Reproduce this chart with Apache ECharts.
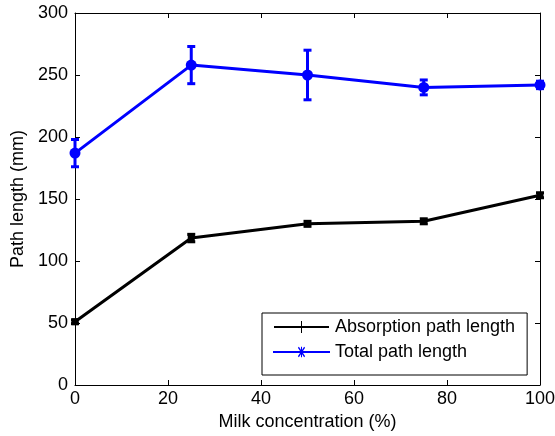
<!DOCTYPE html>
<html>
<head>
<meta charset="utf-8">
<script src="https://cdn.jsdelivr.net/npm/echarts@6/dist/echarts.min.js"></script>
<style>
  body { margin: 0; background: #fff; }
  #grafico { width: 555px; height: 436px; }
</style>
</head>
<body>
<div id="grafico"></div>
<script>
var concentration = [0, 25, 50, 75, 100];
var absorption = [51, 118.5, 130, 132, 153];
var absorptionErr = [1.5, 3, 2, 2, 2];
var total = [187, 258, 250, 240, 242];
var totalErr = [11, 15, 20, 6, 3];

function pairs(xs, ys) {
  return xs.map(function (x, i) { return [x, ys[i]]; });
}
function bars(xs, ys, es) {
  return xs.map(function (x, i) { return [x, ys[i] - es[i], ys[i] + es[i]]; });
}

// vertical error bar with caps
function errorBar(color) {
  return function (params, api) {
    var lo = api.coord([api.value(0), api.value(1)]);
    var hi = api.coord([api.value(0), api.value(2)]);
    var w = 4;
    var st = { stroke: color, lineWidth: 3 };
    return {
      type: 'group',
      children: [
        { type: 'line', shape: { x1: lo[0], y1: lo[1], x2: hi[0], y2: hi[1] }, style: st },
        { type: 'line', shape: { x1: lo[0] - w, y1: lo[1], x2: lo[0] + w, y2: lo[1] }, style: st },
        { type: 'line', shape: { x1: hi[0] - w, y1: hi[1], x2: hi[0] + w, y2: hi[1] }, style: st }
      ]
    };
  };
}

var font = 'Liberation Sans, Arial, sans-serif';
var plusIcon = 'path://M0,5H55V7H0Z M27,0H28V12H27Z';
var starIcon = 'path://M0,5H55V7H0Z M27,1H28V11H27Z M24,2L25,1L31,10L30,11Z M24,10L30,1L31,2L25,11Z';

function frameAxis(extra) {
  var a = {
    axisLine: { show: true, onZero: false, lineStyle: { color: '#000', width: 1 } },
    axisTick: { show: true, inside: true, length: 5, lineStyle: { color: '#000' } },
    axisLabel: { show: false },
    splitLine: { show: false }
  };
  for (var k in extra) a[k] = extra[k];
  return a;
}

var chart = echarts.init(document.getElementById('grafico'));
var option = {
  backgroundColor: '#fff',
  animation: false,
  textStyle: { fontFamily: font },
  grid: { left: 75, right: 15, top: 13, bottom: 51, containLabel: false, outerBoundsMode: 'none' },
  legend: {
    orient: 'vertical',
    left: 262,
    top: 313,
    padding: [5, 12, 14, 11],
    itemGap: 7,
    itemWidth: 57,
    itemHeight: 12,
    borderColor: '#000',
    borderWidth: 1,
    borderRadius: 0,
    backgroundColor: '#fff',
    textStyle: { fontFamily: font, fontSize: 18, color: '#000' },
    data: [
      { name: 'Absorption path length', icon: plusIcon, itemStyle: { color: '#000' } },
      { name: 'Total path length', icon: starIcon, itemStyle: { color: '#0000ff' } }
    ]
  },
  xAxis: [
    frameAxis({
      type: 'value', min: 0, max: 100, interval: 20, position: 'bottom',
      name: 'Milk concentration (%)', nameLocation: 'middle', nameGap: 28,
      nameTextStyle: { fontSize: 18, color: '#000' },
      axisLabel: { fontSize: 18, color: '#000', margin: 5 }
    }),
    frameAxis({ type: 'value', min: 0, max: 100, interval: 20, position: 'top' })
  ],
  yAxis: [
    frameAxis({
      type: 'value', min: 0, max: 300, interval: 50, position: 'left',
      name: 'Path length (mm)', nameLocation: 'middle', nameGap: 45,
      nameTextStyle: { fontSize: 18, color: '#000' },
      axisLabel: { fontSize: 18, color: '#000', margin: 7 }
    }),
    frameAxis({ type: 'value', min: 0, max: 300, interval: 50, position: 'right' })
  ],
  series: [
    {
      name: 'Absorption path length',
      type: 'line',
      data: pairs(concentration, absorption),
      symbol: 'rect',
      symbolSize: 7,
      itemStyle: { color: '#000' },
      lineStyle: { color: '#000', width: 3 },
      z: 3
    },
    {
      type: 'custom',
      data: bars(concentration, absorption, absorptionErr),
      renderItem: errorBar('#000'),
      z: 3
    },
    {
      name: 'Total path length',
      type: 'line',
      data: pairs(concentration, total),
      symbol: 'circle',
      symbolSize: 11,
      itemStyle: { color: '#0000ff' },
      lineStyle: { color: '#0000ff', width: 3 },
      z: 4
    },
    {
      type: 'custom',
      data: bars(concentration, total, totalErr),
      renderItem: errorBar('#0000ff'),
      z: 4
    }
  ]
};
chart.setOption(option);
</script>
</body>
</html>
